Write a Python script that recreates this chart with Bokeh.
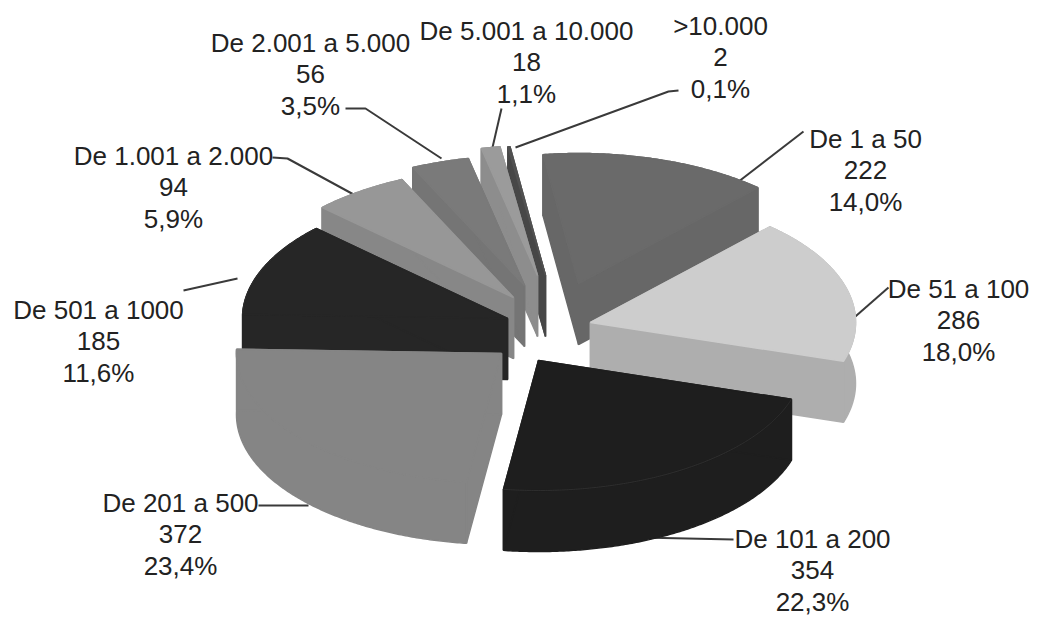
import numpy as np
from bokeh.embed import file_html
from bokeh.plotting import figure
from bokeh.resources import INLINE
from bokeh.core.properties import value

# Number of items per size class, with the printed share of the total
classes = ["De 1 a 50", "De 51 a 100", "De 101 a 200", "De 201 a 500", "De 501 a 1000",
           "De 1.001 a 2.000", "De 2.001 a 5.000", "De 5.001 a 10.000", ">10.000"]
counts = [222, 286, 354, 372, 185, 94, 56, 18, 2]
shares = ["14,0%", "18,0%", "22,3%", "23,4%", "11,6%", "5,9%", "3,5%", "1,1%", "0,1%"]

top_colors = ["#6a6a6a", "#cdcdcd", "#1e1e1e", "#858585", "#262626", "#979797", "#7a7a7a", "#9b9b9b", "#515151"]
wall_colors = ["#676767", "#aeaeae", "#1e1e1e", "#858585", "#262626", "#878787", "#757575", "#8d8d8d", "#474747"]

# Pie layout in pixels: ellipse radii, extrusion height, first slice angle (clockwise from 12 o'clock)
RX, RY, DEPTH, START_DEG = 265.0, 130.0, 61.0, -7.7
# Displacement of each exploded slice's tip
tip_x = [578, 590, 538, 501, 507, 513, 524, 537, 545]
tip_y = [283, 322, 360, 353, 318, 297, 285, 275, 275]
# Back slices are painted first so nearer ones overlap them
paint_order = [0, 8, 7, 6, 5, 4, 1, 3, 2]

# Label anchors (centre x, first-line y) and leader polylines
label_x = [865, 958, 812, 180, 98, 173, 310, 526, 720]
label_y = [138, 288, 538, 502, 309, 155, 42, 30, 25]
LINE_STEP = 31.5
leader_xs = [[803, 733], [888, 848], [733, 640], [258, 308], [183, 237],
             [272, 287, 355], [345, 365, 441], [501, 492], [678, 668, 515]]
leader_ys = [[131, 185], [287, 322], [539, 537], [505, 505], [290, 278],
             [157, 158, 195], [108, 108, 158], [108, 147], [90, 91, 147]]

p = figure(width=1037, height=617, x_range=(0, 1037), y_range=(617, 0),
           output_backend="svg", toolbar_location=None, min_border=0)
p.axis.visible = False
p.grid.visible = False
p.outline_line_color = None
p.background_fill_color = "white"
p.border_fill_color = "white"

p.multi_line(leader_xs, leader_ys, line_color="#3a3a3a", line_width=2)

total = sum(counts)
edges = np.radians(START_DEG + 360.0 * np.concatenate([[0], np.cumsum(counts)]) / total)

xs, ys, colors = [], [], []
rim_xs, rim_ys = [], []
for i in paint_order:
    t = np.linspace(edges[i], edges[i + 1], max(int(np.degrees(edges[i + 1] - edges[i])) * 2, 3))
    ax, ay = tip_x[i], tip_y[i]
    rx_pts = ax + RX * np.sin(t)
    ry_pts = ay - RY * np.cos(t)
    # Outer wall
    xs.append(np.r_[rx_pts, rx_pts[::-1]])
    ys.append(np.r_[ry_pts, ry_pts[::-1] + DEPTH])
    colors.append(wall_colors[i])
    # The two cut faces
    for k in (0, -1):
        xs.append(np.array([ax, rx_pts[k], rx_pts[k], ax]))
        ys.append(np.array([ay, ry_pts[k], ry_pts[k] + DEPTH, ay + DEPTH]))
        colors.append(wall_colors[i])
    # Top face
    xs.append(np.r_[ax, rx_pts])
    ys.append(np.r_[ay, ry_pts])
    colors.append(top_colors[i])
    if i in (2, 4):
        rim_xs.append(rx_pts)
        rim_ys.append(ry_pts)

p.patches(xs, ys, fill_color=colors, line_color=colors, line_width=1.5)
# Faint highlight where the dark slices' top meets their side
p.multi_line(rim_xs, rim_ys, line_color="#2e2e2e", line_width=1)

tx, ty, tt = [], [], []
for name, n, pct, x, y in zip(classes, counts, shares, label_x, label_y):
    for j, line in enumerate((name, str(n), pct)):
        tx.append(x)
        ty.append(y + j * LINE_STEP)
        tt.append(line)
p.text(x=tx, y=ty, text=tt, text_font=value("Liberation Sans"), text_font_size="26px",
       text_color="#222222", text_align="center", text_baseline="middle")

open("out.html", "w").write(file_html(p, INLINE))
